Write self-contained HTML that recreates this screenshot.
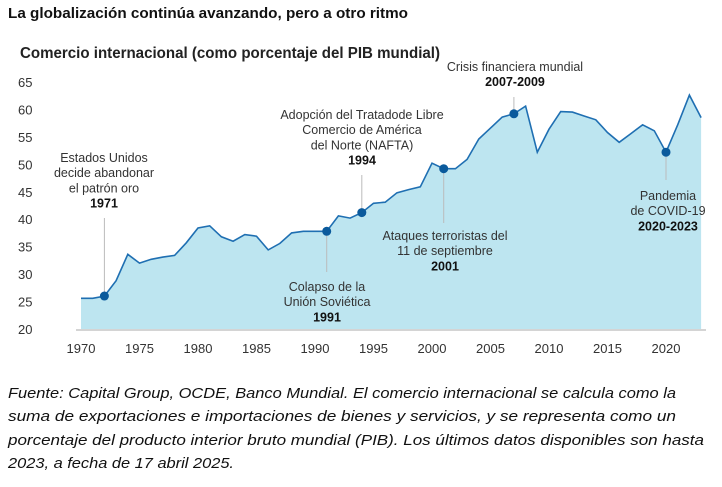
<!DOCTYPE html>
<html><head><meta charset="utf-8"><style>
body{margin:0;background:#fff;}
svg{display:block;font-family:"Liberation Sans",sans-serif;}
</style></head><body>
<svg id="chart" width="722" height="487" viewBox="0 0 722 487">
<text x="8" y="18" font-size="14.5" font-weight="bold" fill="#111" textLength="400" lengthAdjust="spacingAndGlyphs">La globalización continúa avanzando, pero a otro ritmo</text>
<text x="20" y="58" font-size="15.5" font-weight="bold" fill="#222" textLength="420" lengthAdjust="spacingAndGlyphs">Comercio internacional (como porcentaje del PIB mundial)</text>
<g id="yaxis"></g>
<g id="xaxis"></g>
<g id="plot"></g>
<g id="ann"></g>
<g font-size="15" font-style="italic" fill="#111">
<text x="8" y="398" textLength="668" lengthAdjust="spacingAndGlyphs">Fuente: Capital Group, OCDE, Banco Mundial. El comercio internacional se calcula como la</text>
<text x="8" y="421" textLength="668" lengthAdjust="spacingAndGlyphs">suma de exportaciones e importaciones de bienes y servicios, y se representa como un</text>
<text x="8" y="445" textLength="696" lengthAdjust="spacingAndGlyphs">porcentaje del producto interior bruto mundial (PIB). Los últimos datos disponibles son hasta</text>
<text x="8" y="468" textLength="226" lengthAdjust="spacingAndGlyphs">2023, a fecha de 17 abril 2025.</text>
</g>
</svg>
<script>
const years=[1970,1971,1972,1973,1974,1975,1976,1977,1978,1979,1980,1981,1982,1983,1984,1985,1986,1987,1988,1989,1990,1991,1992,1993,1994,1995,1996,1997,1998,1999,2000,2001,2002,2003,2004,2005,2006,2007,2008,2009,2010,2011,2012,2013,2014,2015,2016,2017,2018,2019,2020,2021,2022,2023];
const tradePct=[25.6,25.6,26.0,28.8,33.6,32.0,32.7,33.1,33.4,35.7,38.4,38.8,36.8,36.0,37.2,36.9,34.4,35.6,37.5,37.8,37.8,37.8,40.6,40.2,41.2,42.9,43.1,44.8,45.4,45.9,50.2,49.2,49.2,50.9,54.6,56.6,58.6,59.2,60.6,52.2,56.4,59.6,59.5,58.8,58.1,55.8,54.0,55.6,57.2,56.1,52.2,57.2,62.6,58.5];
const yTicks=[20,25,30,35,40,45,50,55,60,65];
const xTicks=[1970,1975,1980,1985,1990,1995,2000,2005,2010,2015,2020];
const eventYears=[1972,1991,1994,2001,2007,2020];
const NS='http://www.w3.org/2000/svg';
const X=y=>81+(y-1970)*11.7;
const Y=v=>329-(v-20)*5.49;
function mk(tag,attrs,parent){const e=document.createElementNS(NS,tag);for(const k in attrs)e.setAttribute(k,attrs[k]);parent.appendChild(e);return e;}
const ya=document.getElementById('yaxis'),xa=document.getElementById('xaxis'),plot=document.getElementById('plot'),ann=document.getElementById('ann');
yTicks.forEach(t=>{const e=mk('text',{x:18,y:Y(t)+5,'font-size':13,fill:'#333'},ya);e.textContent=t;

});
xTicks.forEach(t=>{const e=mk('text',{x:X(t),y:353,'font-size':13,fill:'#333','text-anchor':'middle'},xa);e.textContent=t;

});
let pts=years.map((y,i)=>X(y).toFixed(1)+','+Y(tradePct[i]).toFixed(1));
const area=mk('path',{d:'M'+X(years[0])+','+Y(20)+' L'+pts.join(' L')+' L'+X(years[years.length-1])+','+Y(20)+'Z',fill:'#bde5f0'},plot);


const line=mk('polyline',{points:pts.join(' '),fill:'none',stroke:'#1f6fb2','stroke-width':1.6},plot);


const ax=mk('line',{x1:76,x2:706,y1:330,y2:330,stroke:'#aaa','stroke-width':1},plot);


const anns=[
 {lines:['Estados Unidos','decide abandonar','el patrón oro','1971'],cx:104,ty:162,l1:218,l2:null},
 {lines:['Colapso de la','Unión Soviética','1991'],cx:327,ty:291,l1:null,l2:272},
 {lines:['Adopción del Tratadode Libre','Comercio de América','del Norte (NAFTA)','1994'],cx:362,ty:119,l1:175,l2:null},
 {lines:['Ataques terroristas del','11 de septiembre','2001'],cx:445,ty:240,l1:null,l2:223},
 {lines:['Crisis financiera mundial','2007-2009'],cx:515,ty:71,l1:97,l2:null},
 {lines:['Pandemia','de COVID-19','2020-2023'],cx:668,ty:200,l1:null,l2:180}];
eventYears.forEach((ey,i)=>{const a=anns[i];const v=tradePct[years.indexOf(ey)];const px=X(ey),py=Y(v);
 const ln=mk('line',{x1:px,x2:px,y1:a.l1!==null?a.l1:py,y2:a.l2!==null?a.l2:py,stroke:'#bbb','stroke-width':1},ann);
 
 
 const d=mk('circle',{cx:px,cy:py,r:4.5,fill:'#0a5a9c'},ann);
 
 
 a.lines.forEach((s,j)=>{const last=j===a.lines.length-1;const t=mk('text',{x:a.cx,y:a.ty+j*15.2,'text-anchor':'middle','font-size':12.5,fill:last?'#111':'#333','font-weight':last?'bold':'normal'},ann);t.textContent=s;
 
 });
});
</script>
</body></html>
